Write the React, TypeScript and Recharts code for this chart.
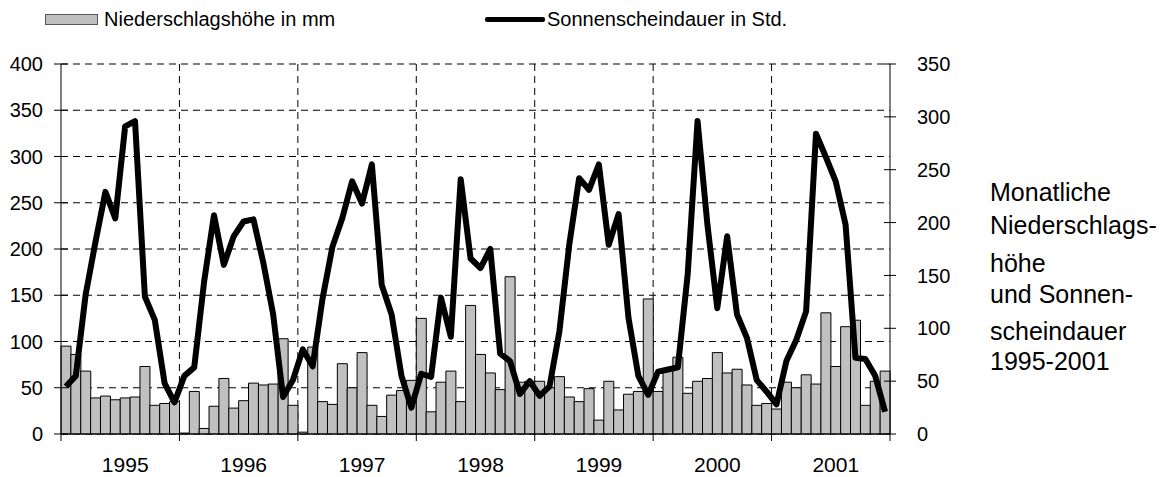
import React from 'react';
import { ComposedChart, Bar, Line, XAxis, YAxis, CartesianGrid } from 'recharts';

const YEARS = ['1995', '1996', '1997', '1998', '1999', '2000', '2001'];

// Niederschlagshöhe in mm, Jan..Dec for each year
const PRECIP_1995 = [95, 86, 68, 39, 41, 37, 39, 40, 73, 31, 33, 35];
const PRECIP_1996 = [1, 46, 6, 30, 60, 28, 36, 55, 53, 54, 103, 31];
const PRECIP_1997 = [2, 94, 35, 32, 76, 50, 88, 31, 19, 42, 47, 58];
const PRECIP_1998 = [125, 24, 56, 68, 35, 139, 86, 66, 48, 170, 56, 57];
const PRECIP_1999 = [57, 50, 62, 40, 35, 49, 15, 57, 26, 43, 46, 146];
const PRECIP_2000 = [46, 69, 83, 44, 57, 60, 88, 66, 70, 53, 31, 33];
const PRECIP_2001 = [27, 56, 50, 64, 54, 131, 73, 116, 123, 31, 57, 68];

// Sonnenscheindauer in Std., Jan..Dec for each year
const SUN_1995 = [45, 55, 132, 182, 229, 204, 291, 296, 130, 108, 48, 30];
const SUN_1996 = [55, 63, 144, 207, 160, 187, 201, 203, 162, 113, 35, 51];
const SUN_1997 = [80, 64, 128, 177, 204, 239, 218, 255, 141, 113, 55, 25];
const SUN_1998 = [57, 54, 129, 92, 241, 166, 157, 175, 76, 69, 38, 50];
const SUN_1999 = [36, 45, 97, 179, 242, 231, 255, 179, 208, 110, 55, 37];
const SUN_2000 = [59, 61, 63, 151, 296, 198, 119, 187, 113, 91, 51, 40];
const SUN_2001 = [28, 69, 89, 116, 284, 262, 239, 198, 72, 71, 55, 21];

const PRECIP = [
  ...PRECIP_1995, ...PRECIP_1996, ...PRECIP_1997, ...PRECIP_1998,
  ...PRECIP_1999, ...PRECIP_2000, ...PRECIP_2001,
];
const SUNSHINE = [
  ...SUN_1995, ...SUN_1996, ...SUN_1997, ...SUN_1998,
  ...SUN_1999, ...SUN_2000, ...SUN_2001,
];

const LEFT_TICKS = [0, 50, 100, 150, 200, 250, 300, 350, 400];
const RIGHT_TICKS = [0, 50, 100, 150, 200, 250, 300, 350];
const MONTH_TICKS = [0, 6, 12, 18, 24, 30, 36, 42, 48, 54, 60, 66, 72, 78, 84];
const BOUNDARIES = [12, 24, 36, 48, 60, 72];

const SIDE_TEXT = ['Monatliche', 'Niederschlags-', 'höhe', 'und Sonnen-', 'scheindauer', '1995-2001'];
const SIDE_BASELINES = [201, 234, 272, 303, 340, 370];

const FONT = '"Liberation Sans", Arial, Helvetica, sans-serif';

const data = PRECIP.map((p, i) => ({ m: i, precip: p, sun: SUNSHINE[i] }));

const YearTick = (props: any) => {
  const { x, y, payload } = props;
  const v = payload.value as number;
  if (v % 12 === 0) {
    return <line x1={x} x2={x} y1={y} y2={y + 7} stroke="#000" strokeWidth={1} />;
  }
  return (
    <text x={x + 5} y={y + 38} textAnchor="middle" fontSize={21} fontFamily={FONT} fill="#000">
      {YEARS[(v - 6) / 12]}
    </text>
  );
};

const LeftTick = (props: any) => {
  const { x, y, payload } = props;
  return (
    <g>
      <line x1={x - 7} x2={x + 7} y1={y} y2={y} stroke="#000" strokeWidth={1} />
      <text x={x - 18} y={y} dy="0.36em" textAnchor="end" fontSize={20} fontFamily={FONT} fill="#000">
        {payload.value}
      </text>
    </g>
  );
};

const RightTick = (props: any) => {
  const { x, y, payload } = props;
  return (
    <g>
      <line x1={x - 6} x2={x + 6} y1={y} y2={y} stroke="#000" strokeWidth={1} />
      <text x={x + 27} y={y} dy="0.36em" textAnchor="start" fontSize={20} fontFamily={FONT} fill="#000">
        {payload.value}
      </text>
    </g>
  );
};

export default function App() {
  return (
    <div style={{ position: 'absolute', left: 0, top: 0, width: 1173, height: 477, background: '#fff', fontFamily: FONT }}>
      <ComposedChart
        width={1173}
        height={477}
        data={data}
        margin={{ top: 64, right: 223, bottom: 0, left: 0 }}
        barCategoryGap={0}
        barGap={0}
      >
        <CartesianGrid
          xAxisId="yr"
          yAxisId="left"
          stroke="#000"
          strokeWidth={1}
          strokeDasharray="7 5"
          verticalCoordinatesGenerator={({ offset }: any) =>
            BOUNDARIES.map((b) => offset.left + (offset.width * b) / 84)
          }
        />
        <XAxis
          xAxisId="yr"
          dataKey="m"
          type="number"
          domain={[0, 84]}
          allowDataOverflow
          ticks={MONTH_TICKS}
          interval={0}
          height={43}
          tickSize={0}
          tickMargin={0}
          tickLine={false}
          axisLine={{ stroke: '#000', strokeWidth: 1 }}
          tick={<YearTick />}
        />
        <XAxis xAxisId="cat" dataKey="m" type="category" hide height={0} />
        <YAxis
          yAxisId="left"
          domain={[0, 400]}
          ticks={LEFT_TICKS}
          interval={0}
          width={61}
          tickSize={0}
          tickMargin={0}
          tickLine={false}
          axisLine={{ stroke: '#000', strokeWidth: 1 }}
          tick={<LeftTick />}
        />
        <YAxis
          yAxisId="right"
          orientation="right"
          domain={[0, 350]}
          ticks={RIGHT_TICKS}
          interval={0}
          width={60}
          tickSize={0}
          tickMargin={0}
          tickLine={false}
          axisLine={{ stroke: '#000', strokeWidth: 1 }}
          tick={<RightTick />}
        />
        <Bar
          xAxisId="cat"
          yAxisId="left"
          dataKey="precip"
          fill="#c0c0c0"
          stroke="#000"
          strokeWidth={1}
          isAnimationActive={false}
        />
        <Line
          xAxisId="cat"
          yAxisId="right"
          dataKey="sun"
          type="linear"
          stroke="#000"
          strokeWidth={6}
          strokeLinejoin="round"
          dot={false}
          activeDot={false}
          isAnimationActive={false}
        />
      </ComposedChart>

      {/* Legend */}
      <div style={{ position: 'absolute', left: 45, top: 14, width: 51, height: 9, background: '#c0c0c0', border: '1px solid #555' }} />
      <div style={{ position: 'absolute', left: 104, top: 7, fontSize: 20, lineHeight: '24px', color: '#000', whiteSpace: 'nowrap' }}>
        Niederschlagshöhe in mm
      </div>
      <div style={{ position: 'absolute', left: 485, top: 17, width: 60, height: 5, background: '#000', borderRadius: 2 }} />
      <div style={{ position: 'absolute', left: 547, top: 7, fontSize: 20, lineHeight: '24px', color: '#000', whiteSpace: 'nowrap' }}>
        Sonnenscheindauer in Std.
      </div>

      {/* Side caption */}
      <svg style={{ position: 'absolute', left: 0, top: 0 }} width={1173} height={477} pointerEvents="none">
        {SIDE_TEXT.map((t, i) => (
          <text key={t} x={990} y={SIDE_BASELINES[i]} fontSize={25} fontFamily={FONT} fill="#000">
            {t}
          </text>
        ))}
      </svg>
    </div>
  );
}
